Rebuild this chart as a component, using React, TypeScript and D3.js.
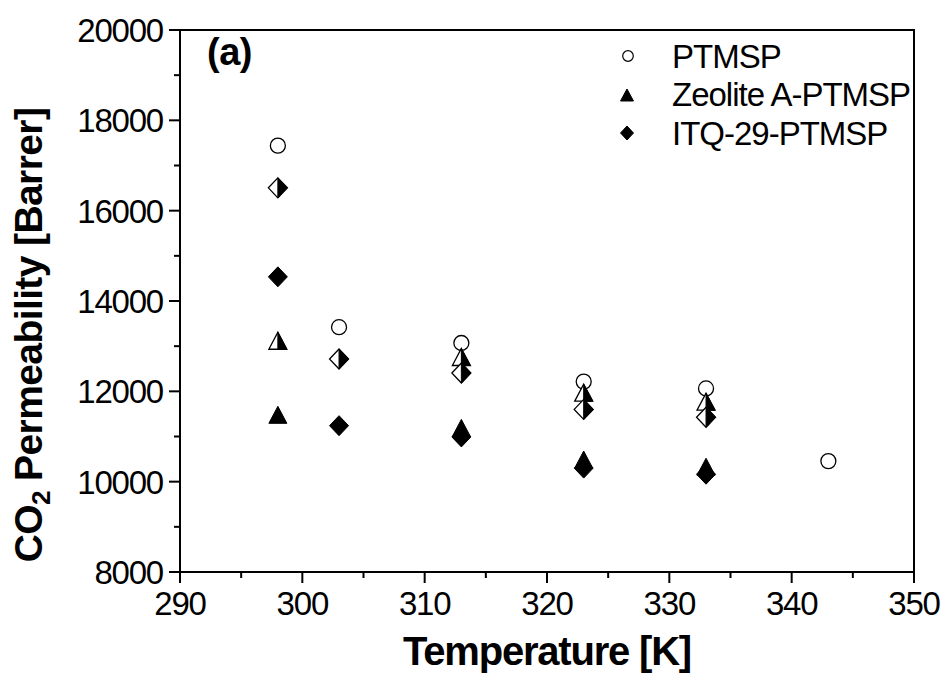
import React, { useEffect } from "react";
import * as d3 from "d3";

const ptmsp: [number, number][] = [
  [298, 17440], [303, 13420], [313, 13070], [323, 12215], [333, 12065], [343, 10455],
];
const zeoliteFilled: [number, number][] = [
  [298, 11480], [313, 11190], [323, 10490], [333, 10330],
];
const zeoliteHalf: [number, number][] = [
  [298, 13120], [313, 12760], [323, 11970], [333, 11770],
];
const itqFilled: [number, number][] = [
  [298, 14535], [303, 11240], [313, 10990], [323, 10300], [333, 10165],
];
const itqHalf: [number, number][] = [
  [298, 16505], [303, 12715], [313, 12405], [323, 11600], [333, 11425],
];
const xTicks = [290, 300, 310, 320, 330, 340, 350];
const xMinor = [295, 305, 315, 325, 335, 345];
const yTicks = [8000, 10000, 12000, 14000, 16000, 18000, 20000];
const yMinor = [9000, 11000, 13000, 15000, 17000, 19000];
const legendLabels = ["PTMSP", "Zeolite A-PTMSP", "ITQ-29-PTMSP"];

const W = 948, H = 684;
const M = { left: 180, right: 914, top: 30, bottom: 572 };
const FONT = "'Liberation Sans', Arial, sans-serif";

const x = d3.scaleLinear().domain([290, 350]).range([M.left, M.right]);
const y = d3.scaleLinear().domain([8000, 20000]).range([M.bottom, M.top]);

function Triangle({ cx, cy, w = 18, h = 17, half = false }: any) {
  const t = [cx, cy - h / 2], bl = [cx - w / 2, cy + h / 2], br = [cx + w / 2, cy + h / 2];
  const full = `M${t[0]},${t[1]}L${br[0]},${br[1]}L${bl[0]},${bl[1]}Z`;
  if (!half) return <path d={full} fill="#000" stroke="#000" strokeWidth={1} />;
  const right = `M${cx},${t[1]}L${br[0]},${br[1]}L${cx},${br[1]}Z`;
  return (
    <g>
      <path d={full} fill="#fff" stroke="#000" strokeWidth={1.3} />
      <path d={right} fill="#000" stroke="#000" strokeWidth={1} />
    </g>
  );
}

function Diamond({ cx, cy, w = 19, h = 20, half = false }: any) {
  const full = `M${cx},${cy - h / 2}L${cx + w / 2},${cy}L${cx},${cy + h / 2}L${cx - w / 2},${cy}Z`;
  if (!half) return <path d={full} fill="#000" stroke="#000" strokeWidth={1} />;
  const right = `M${cx},${cy - h / 2}L${cx + w / 2},${cy}L${cx},${cy + h / 2}Z`;
  return (
    <g>
      <path d={full} fill="#fff" stroke="#000" strokeWidth={1.3} />
      <path d={right} fill="#000" stroke="#000" strokeWidth={1} />
    </g>
  );
}

export default function App() {
  useEffect(() => {
    document.body.style.margin = "0";
  }, []);
  return (
    <svg width={W} height={H} style={{ display: "block", background: "#fff" }} fontFamily={FONT}>
      <rect x={0} y={0} width={W} height={H} fill="#fff" />
      <rect x={M.left} y={M.top} width={M.right - M.left} height={M.bottom - M.top} fill="none" stroke="#000" strokeWidth={2} />
      {yTicks.map((t) => (
        <g key={"y" + t}>
          <line x1={M.left - 11} x2={M.left} y1={y(t)} y2={y(t)} stroke="#000" strokeWidth={2} />
          <text x={M.left - 17} y={y(t)} dy="0.36em" textAnchor="end" fontSize={33} letterSpacing={-1.2}>{t}</text>
        </g>
      ))}
      {yMinor.map((t) => (
        <line key={"ym" + t} x1={M.left - 6} x2={M.left} y1={y(t)} y2={y(t)} stroke="#000" strokeWidth={2} />
      ))}
      {xTicks.map((t) => (
        <g key={"x" + t}>
          <line x1={x(t)} x2={x(t)} y1={M.bottom} y2={M.bottom + 11} stroke="#000" strokeWidth={2} />
          <text x={x(t)} y={M.bottom + 43} textAnchor="middle" fontSize={33} letterSpacing={-1.2}>{t}</text>
        </g>
      ))}
      {xMinor.map((t) => (
        <line key={"xm" + t} x1={x(t)} x2={x(t)} y1={M.bottom} y2={M.bottom + 6} stroke="#000" strokeWidth={2} />
      ))}
      <text x={(M.left + M.right) / 2} y={665} textAnchor="middle" fontSize={40} fontWeight="bold" letterSpacing={-1.2}>Temperature [K]</text>
      <text transform={`translate(42,335) rotate(-90)`} textAnchor="middle" fontSize={39} fontWeight="bold" letterSpacing={-0.6}>
        CO<tspan fontSize={26} dy={8}>2</tspan><tspan dy={-8}> Permeability [Barrer]</tspan>
      </text>
      <text x={207} y={65} fontSize={38} fontWeight="bold" letterSpacing={-0.5}>(a)</text>
      {ptmsp.map(([t, v], i) => (
        <circle key={"p" + i} cx={x(t)} cy={y(v)} r={7.5} fill="#fff" stroke="#000" strokeWidth={1.3} />
      ))}
      {zeoliteHalf.map(([t, v], i) => (
        <Triangle key={"zh" + i} cx={x(t)} cy={y(v)} half />
      ))}
      {itqHalf.map(([t, v], i) => (
        <Diamond key={"ih" + i} cx={x(t)} cy={y(v)} half />
      ))}
      {zeoliteFilled.map(([t, v], i) => (
        <Triangle key={"zf" + i} cx={x(t)} cy={y(v)} />
      ))}
      {itqFilled.map(([t, v], i) => (
        <Diamond key={"if" + i} cx={x(t)} cy={y(v)} />
      ))}
      <circle cx={628} cy={56} r={5.3} fill="#fff" stroke="#000" strokeWidth={1.2} />
      <Triangle cx={627} cy={95} w={13} h={12} />
      <Diamond cx={627} cy={133} w={13} h={14} />
      {legendLabels.map((l, i) => (
        <text key={l} x={672} y={56 + i * 38.6} dy="0.36em" fontSize={33} letterSpacing={-1}>{l}</text>
      ))}
    </svg>
  );
}
